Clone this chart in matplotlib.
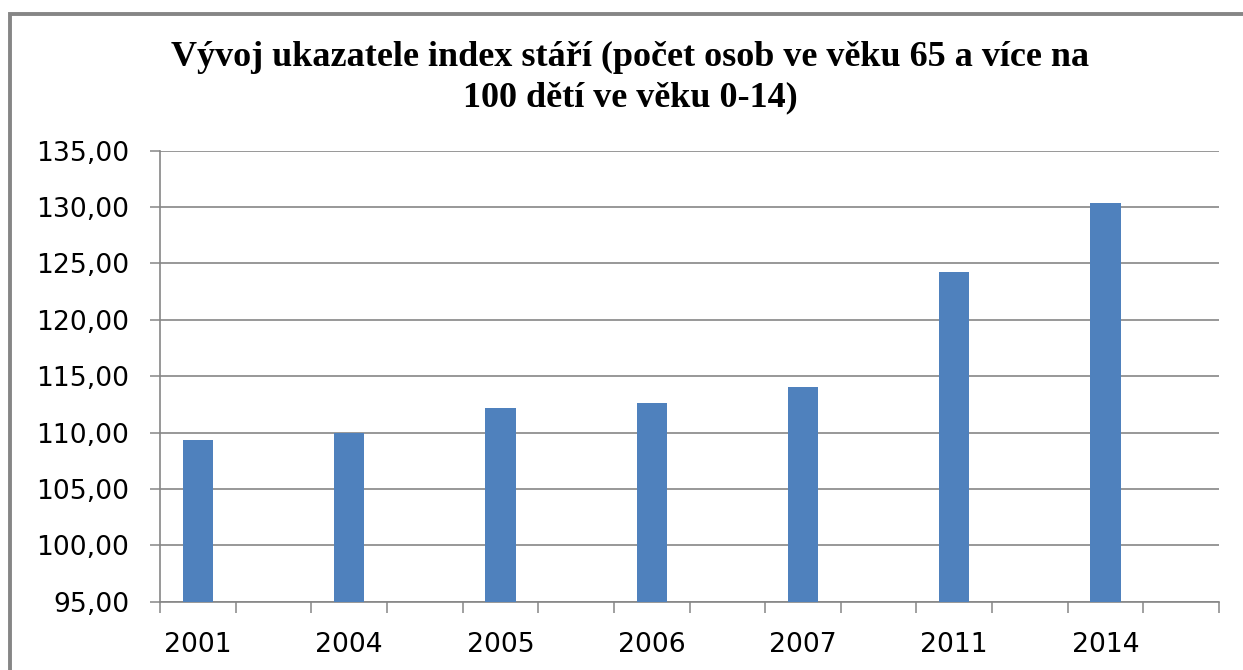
import matplotlib
matplotlib.use("Agg")
import matplotlib.pyplot as plt
from matplotlib.patches import Rectangle
from matplotlib.ticker import FuncFormatter, MultipleLocator

# data
years = ["2001", "2004", "2005", "2006", "2007", "2011", "2014"]
values = [109.34, 110.00, 112.18, 112.62, 114.04, 124.24, 130.33]

title = "Vývoj ukazatele index stáří (počet osob ve věku 65 a více na\n100 dětí ve věku 0-14)"

bar_color = "#4F81BD"
grid_color = "#868686"

fig = plt.figure(figsize=(12.43, 6.70), dpi=100, facecolor="white")
ax = fig.add_axes([160 / 1243, 1 - 601.7 / 670, (1219 - 160) / 1243, (601.7 - 150.7) / 670])

# every year sits in an even slot, odd slots are empty
n_slots = 2 * len(years)
pos = [2 * i + 0.5 for i in range(len(years))]
ax.bar(pos, [v - 95 for v in values], bottom=95, width=0.4, color=bar_color, zorder=3)

ax.set_xlim(0, n_slots)
ax.set_ylim(95, 135)
ax.yaxis.set_major_locator(MultipleLocator(5))
ax.yaxis.set_major_formatter(FuncFormatter(lambda v, p: f"{v:.2f}".replace(".", ",")))
ax.grid(axis="y", color=grid_color, lw=1.2, zorder=0)

ax.set_xticks(range(n_slots + 1))
ax.set_xticklabels([])
ax.set_xticks(pos, minor=True)
ax.set_xticklabels(years, minor=True)
ax.tick_params(axis="x", which="major", length=8, width=1.1, color=grid_color)
ax.tick_params(axis="x", which="minor", length=0, pad=22, labelsize=19.2)
ax.tick_params(axis="y", length=7.2, width=1.1, color=grid_color, pad=15, labelsize=19.2)

for s in ["top", "right"]:
    ax.spines[s].set_visible(False)
for s in ["left", "bottom"]:
    ax.spines[s].set_color(grid_color)
    ax.spines[s].set_linewidth(1.2)

fig.text(630 / 1243, 1 - 41 / 670, title, ha="center", va="top",
         fontsize=26, fontweight="bold", family="Liberation Serif", linespacing=1.28)

# chart area frame, only the top and left edges are inside the picture
fig.patches.append(Rectangle((10 / 1243, -0.1), 1.2, 1 - 14 / 670 + 0.1,
                             transform=fig.transFigure, fill=False,
                             edgecolor=grid_color, lw=2.8))

fig.savefig("out.png", dpi=100)
